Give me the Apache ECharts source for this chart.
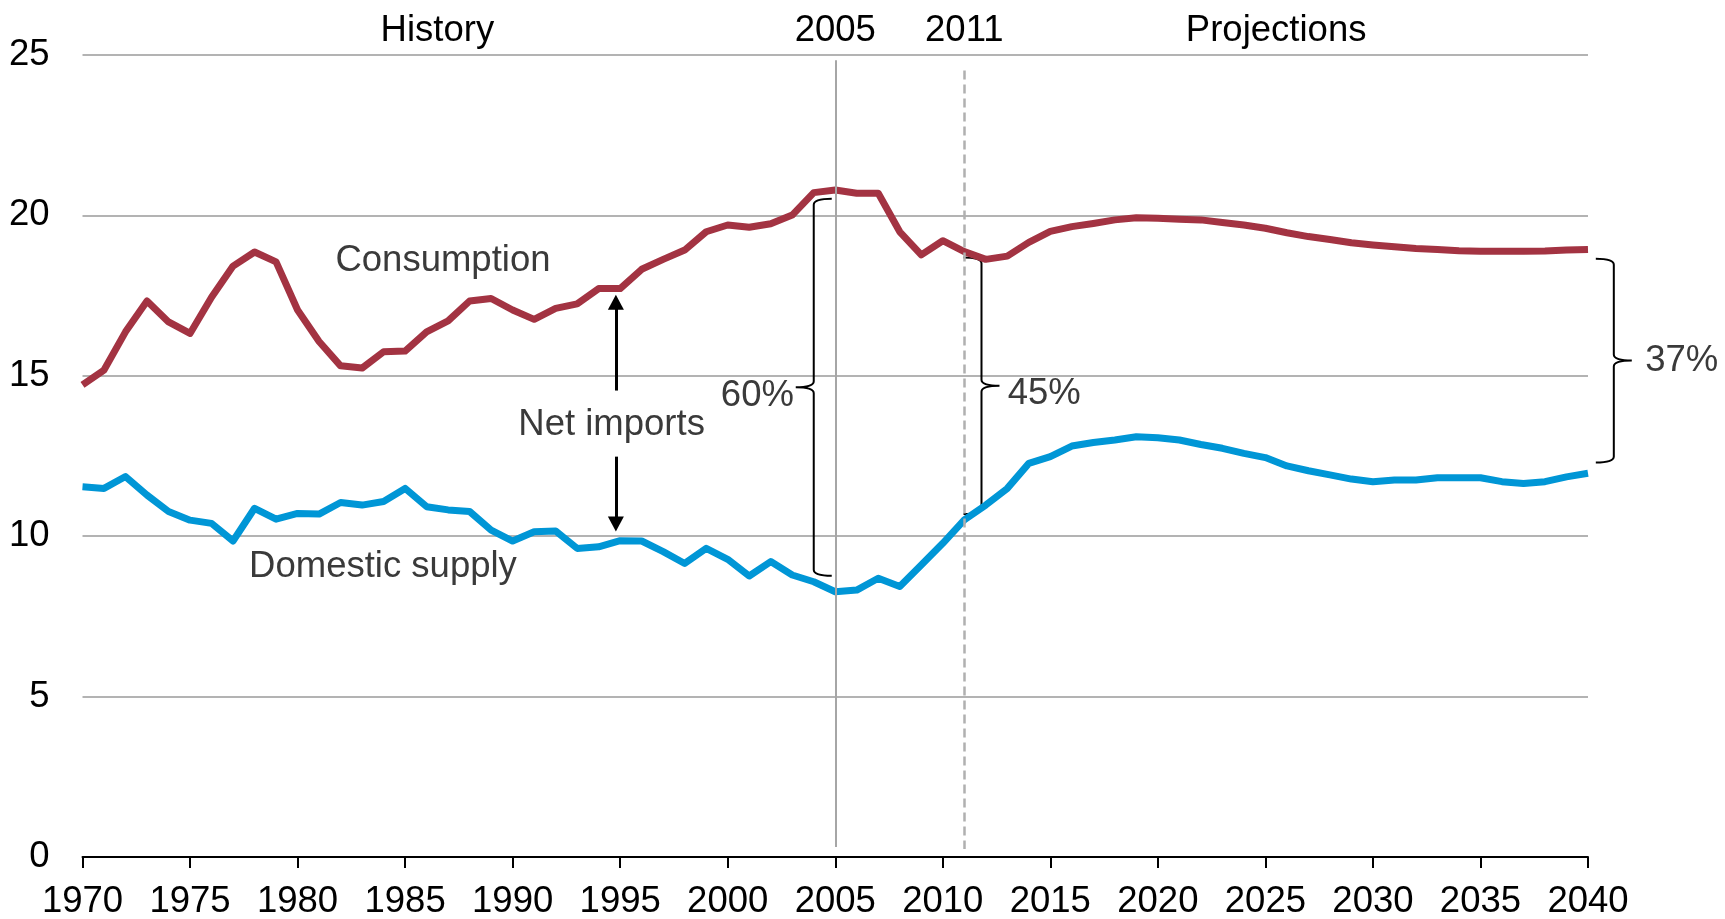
<!DOCTYPE html>
<html>
<head>
<meta charset="utf-8">
<script src="https://cdn.jsdelivr.net/npm/echarts@6/dist/echarts.min.js"></script>
<style>
  html, body { margin: 0; padding: 0; background: #fff; }
  #chart { width: 1725px; height: 919px; }
</style>
</head>
<body>
<div id="chart"></div>
<script>
const startYear = 1970

// 1970-2040
const consumption = [
  14.72, 15.18, 16.37, 17.33, 16.68, 16.32, 17.45, 18.42, 18.86, 18.55,
  17.05, 16.07, 15.31, 15.24, 15.75, 15.77, 16.37, 16.71, 17.33, 17.41,
  17.05, 16.76, 17.10, 17.24, 17.72, 17.72, 18.32, 18.63, 18.92, 19.49,
  19.70, 19.63, 19.74, 20.01, 20.71, 20.79, 20.69, 20.69, 19.49, 18.77,
  19.21, 18.87, 18.63, 18.73, 19.16, 19.50, 19.65, 19.75, 19.86, 19.93,
  19.91, 19.88, 19.86, 19.78, 19.70, 19.60, 19.46, 19.34, 19.25, 19.15,
  19.08, 19.02, 18.97, 18.94, 18.90, 18.88, 18.88, 18.88, 18.89, 18.92,
  18.94
]

const domesticSupply = [
  11.54, 11.49, 11.86, 11.28, 10.77, 10.50, 10.40, 9.85, 10.87, 10.53,
  10.71, 10.69, 11.05, 10.97, 11.08, 11.49, 10.92, 10.82, 10.77, 10.19,
  9.85, 10.14, 10.16, 9.62, 9.67, 9.86, 9.85, 9.52, 9.15, 9.62,
  9.28, 8.76, 9.21, 8.79, 8.58, 8.27, 8.32, 8.69, 8.43, 9.10,
  9.78, 10.51, 10.97, 11.49, 12.27, 12.48, 12.81, 12.92, 13.00, 13.10,
  13.07, 13.00, 12.86, 12.74, 12.58, 12.45, 12.19, 12.04, 11.91, 11.78,
  11.70, 11.75, 11.75, 11.82, 11.82, 11.82, 11.70, 11.64, 11.70, 11.85,
  11.96
]

// reference lines: [year, top, bottom]
const historyLine = [2005, 24.84, 0.31]
const projectionLine = [2011, 24.52, 0.25]

// net import arrows: [year, tail, head]
const arrowUp = [1994.8, 14.54, 17.29]
const arrowDown = [1994.8, 12.48, 10.38]

// braces: [year, top, bottom, nub direction (-1 left, 1 right)]
const braces = [
  [2004.0, 20.52, 8.77, -1],
  [2011.8, 18.69, 10.69, 1],
  [2041.2, 18.65, 12.30, 1]
]

// text annotations: [text, year, value]
const notes = [
  ['History', 1986.5, 25.76],
  ['2005', 2005, 25.76],
  ['2011', 2011, 25.76],
  ['Projections', 2025.5, 25.76],
  ['Consumption', 1986.76, 18.57],
  ['Domestic supply', 1983.97, 9.03],
  ['Net imports', 1994.6, 13.47],
  ['60%', 2001.38, 14.36],
  ['45%', 2014.72, 14.42],
  ['37%', 2044.36, 15.45]
]
const topNotes = ['History', '2005', '2011', 'Projections']

const toPairs = arr => arr.map((v, i) => [startYear + i, v])

const FONT = '"Liberation Sans", Arial, sans-serif'
const chart = echarts.init(document.getElementById('chart'))

const braceItem = (params, api) => {
  const x = api.coord([api.value(0), api.value(1)])[0]
  const yt = api.coord([api.value(0), api.value(1)])[1]
  const yb = api.coord([api.value(0), api.value(2)])[1]
  const dir = api.value(3)
  const s = -dir
  const h = 18, n = 18, r = 6
  const ym = (yt + yb) / 2
  const d = [
    'M', x + s * h, yt,
    'Q', x, yt, x, yt + r,
    'L', x, ym - r,
    'Q', x, ym, x + dir * n, ym,
    'Q', x, ym, x, ym + r,
    'L', x, yb - r,
    'Q', x, yb, x + s * h, yb
  ].join(' ')
  return {
    type: 'path',
    shape: { pathData: d },
    style: { stroke: '#000', fill: null, lineWidth: 2 }
  }
}

const noteItem = (params, api) => {
  const p = api.coord([api.value(0), api.value(1)])
  const text = notes[params.dataIndex][0]
  return {
    type: 'text',
    x: p[0],
    y: p[1],
    style: {
      text: text,
      fill: topNotes.includes(text) ? '#000' : '#3a3a3a',
      fontSize: 36.5,
      fontFamily: FONT,
      align: 'center',
      verticalAlign: 'middle'
    }
  }
}

const option = {
  animation: false,
  backgroundColor: '#fff',
  grid: {
    left: 82.5,
    right: 137,
    top: 55,
    bottom: 62,
    containLabel: false,
    outerBoundsMode: 'none'
  },
  xAxis: {
    type: 'value',
    min: 1970,
    max: 2040,
    interval: 5,
    axisLine: { show: true, lineStyle: { color: '#000', width: 2 } },
    axisTick: { show: true, length: 11, lineStyle: { color: '#000', width: 2 } },
    axisLabel: {
      color: '#000',
      fontSize: 36.5,
      fontFamily: FONT,
      margin: 26,
      formatter: v => String(v)
    },
    splitLine: { show: false }
  },
  yAxis: {
    type: 'value',
    min: 0,
    max: 25,
    interval: 5,
    axisLine: { show: false },
    axisTick: { show: false },
    axisLabel: { color: '#000', fontSize: 36.5, fontFamily: FONT, margin: 33 },
    splitLine: { lineStyle: { color: '#b3b3b3', width: 2 } }
  },
  series: [
    {
      name: 'Consumption',
      type: 'line',
      data: toPairs(consumption),
      showSymbol: false,
      lineStyle: { color: '#a33342', width: 7, join: 'round' },
      z: 3,
      markLine: {
        silent: true,
        symbol: 'none',
        label: { show: false },
        data: [
          [
            { coord: [historyLine[0], historyLine[1]], lineStyle: { color: '#a6a6a6', width: 2, type: 'solid' } },
            { coord: [historyLine[0], historyLine[2]] }
          ],
          [
            { coord: [projectionLine[0], projectionLine[1]], lineStyle: { color: '#b0b0b0', width: 2.5, type: [9, 5] } },
            { coord: [projectionLine[0], projectionLine[2]] }
          ],
          [
            { coord: [arrowUp[0], arrowUp[1]], symbol: 'none', lineStyle: { color: '#000', width: 3, type: 'solid' } },
            { coord: [arrowUp[0], arrowUp[2]], symbol: 'triangle', symbolSize: [16, 15] }
          ],
          [
            { coord: [arrowDown[0], arrowDown[1]], symbol: 'none', lineStyle: { color: '#000', width: 3, type: 'solid' } },
            { coord: [arrowDown[0], arrowDown[2]], symbol: 'triangle', symbolSize: [16, 15] }
          ]
        ]
      }
    },
    {
      name: 'Domestic supply',
      type: 'line',
      data: toPairs(domesticSupply),
      showSymbol: false,
      lineStyle: { color: '#0096d6', width: 7, join: 'round' },
      z: 3
    },
    {
      type: 'custom',
      name: 'braces',
      data: braces,
      encode: { x: 0, y: [1, 2] },
      clip: false,
      silent: true,
      renderItem: braceItem
    },
    {
      type: 'custom',
      name: 'notes',
      data: notes.map(n => [n[1], n[2]]),
      encode: { x: 0, y: 1 },
      clip: false,
      silent: true,
      renderItem: noteItem
    }
  ]
}

chart.setOption(option)
</script>
</body>
</html>
